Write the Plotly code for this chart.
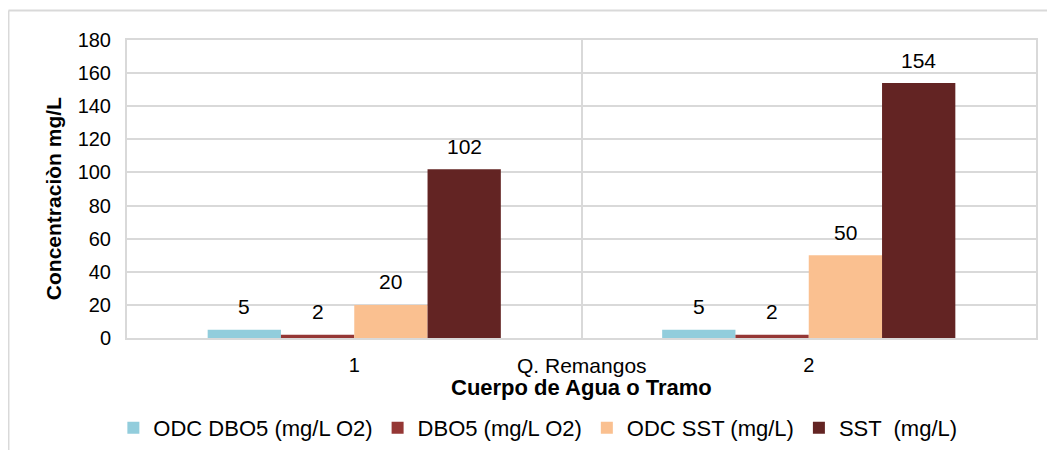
import plotly.graph_objects as go

categorias = [1, 2]
etiquetas = ["1", "2"]
grupo = "Q. Remangos"

series = ["ODC DBO5 (mg/L O2)", "DBO5 (mg/L O2)", "ODC SST (mg/L)", "SST  (mg/L)"]
odc_dbo5 = [5, 5]
dbo5 = [2, 2]
odc_sst = [20, 50]
sst = [102, 154]

colores = ["#92CDDC", "#953735", "#FAC090", "#632423"]
valores = [odc_dbo5, dbo5, odc_sst, sst]

bargap = 0.355
ancho = (1 - bargap) / len(series)

fig = go.Figure()
for i, (nombre, y, c) in enumerate(zip(series, valores, colores)):
  fig.add_trace(
    go.Bar(
      name=nombre,
      x=categorias,
      y=y,
      marker=dict(color=c, line=dict(width=0)),
    )
  )
  # etiquetas de datos, un poco separadas de la barra como en Excel
  for xc, v in zip(categorias, y):
    fig.add_annotation(
      x=xc + (i - (len(series) - 1) / 2) * ancho, y=v, xref="x", yref="y",
      text=str(v), showarrow=False, yanchor="middle", yshift=23,
      font=dict(size=21, color="black"),
    )

gris = "#D9D9D9"
# la pagina tiene 8px de margen en el body
fig.update_layout(
  template="plotly_white",
  width=1039,
  height=442,
  barmode="group",
  bargap=bargap,
  bargroupgap=0,
  margin=dict(l=119, r=11, t=32, b=112, autoexpand=False),
  font=dict(family="Liberation Sans, Arial", color="black", size=20),
  plot_bgcolor="white",
  paper_bgcolor="white",
  legend=dict(
    orientation="h",
    x=0.452, xanchor="center",
    y=-0.302, yanchor="middle",
    font=dict(size=22),
    itemwidth=30,
    tracegroupgap=0,
  ),
  xaxis=dict(
    range=[0.5, 2.5],
    tickvals=categorias,
    ticktext=etiquetas,
    ticks="outside",
    ticklen=8,
    tickcolor="rgba(0,0,0,0)",
    showgrid=False,
    zeroline=False,
    automargin=False,
    showline=True, linecolor=gris, linewidth=2, mirror=True,
    minor=dict(tick0=0.5, dtick=1, showgrid=True, gridcolor=gris, gridwidth=2),
  ),
  yaxis=dict(
    range=[0, 180],
    dtick=20,
    showgrid=True, gridcolor=gris, gridwidth=2,
    zeroline=False,
    automargin=False,
    showline=True, linecolor=gris, linewidth=2, mirror=True,
    ticks="outside", ticklen=10, tickcolor="rgba(0,0,0,0)",
  ),
)

fig.add_annotation(
  x=-0.0814, xref="paper", y=0.466, yref="paper",
  text="<b>Concentraciòn mg/L</b>", textangle=-90, showarrow=False,
  font=dict(size=21), xanchor="center", yanchor="middle",
)
fig.add_annotation(
  x=1.5, xref="x", y=-0.092, yref="paper",
  text=grupo, showarrow=False, font=dict(size=21), yanchor="middle",
)
fig.add_annotation(
  x=0.5, xref="paper", y=-0.165, yref="paper",
  text="<b>Cuerpo de Agua o Tramo</b>", showarrow=False, font=dict(size=22), yanchor="middle",
)
# borde exterior del grafico (solo arriba e izquierda quedan visibles)
fig.add_shape(
  type="line", xref="paper", yref="paper",
  x0=-0.1304, x1=1.02, y0=1.099, y1=1.099,
  line=dict(color=gris, width=2), layer="below",
)
fig.add_shape(
  type="line", xref="paper", yref="paper",
  x0=-0.1304, x1=-0.1304, y0=-0.4, y1=1.099,
  line=dict(color=gris, width=2), layer="below",
)

fig.write_html("out.html")
